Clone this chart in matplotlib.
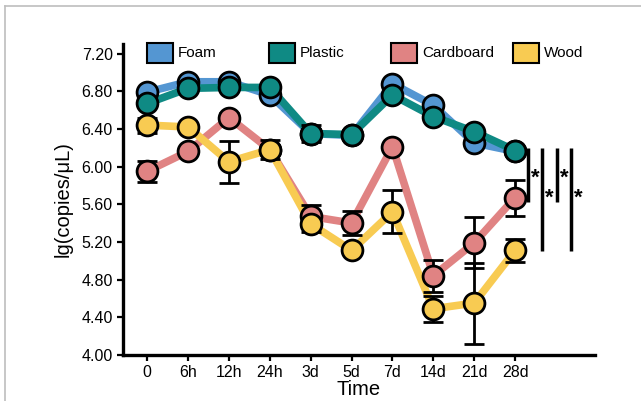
import matplotlib
matplotlib.use("Agg")
import matplotlib.pyplot as plt
from matplotlib.patches import Rectangle
from matplotlib.lines import Line2D
import numpy as np

plt.rcParams['font.family'] = ['Liberation Sans', 'DejaVu Sans']

times = ["0", "6h", "12h", "24h", "3d", "5d", "7d", "14d", "21d", "28d"]
series_names = ["Foam", "Plastic", "Cardboard", "Wood"]
foam = [6.79, 6.90, 6.90, 6.76, 6.35, 6.33, 6.88, 6.65, 6.25, 6.16]
foam_err = [0.04, 0.04, 0.04, 0.04, 0.05, 0.04, 0.04, 0.05, 0.04, 0.03]
plastic = [6.67, 6.83, 6.84, 6.84, 6.35, 6.34, 6.76, 6.53, 6.37, 6.17]
plastic_err = [0.04, 0.03, 0.03, 0.04, 0.09, 0.05, 0.04, 0.04, 0.04, 0.03]
cardboard = [5.95, 6.16, 6.52, 6.18, 5.47, 5.40, 6.21, 4.84, 5.19, 5.67]
cardboard_err = [0.11, 0.04, 0.05, 0.05, 0.12, 0.13, 0.04, 0.17, 0.27, 0.19]
wood = [6.44, 6.42, 6.05, 6.18, 5.39, 5.11, 5.52, 4.49, 4.55, 5.11]
wood_err = [0.08, 0.04, 0.22, 0.10, 0.08, 0.04, 0.23, 0.14, 0.43, 0.12]
colors = ["#5496D2", "#0F8A84", "#E08383", "#F8CB52"]

# significance brackets: (x position, top, bottom)
sig_x = [9.32, 9.66, 10.02, 10.37]
sig_top = [6.20, 6.20, 6.20, 6.20]
sig_bottom = [5.62, 5.10, 5.62, 5.10]
sig_star_y = [5.88, 5.66, 5.88, 5.66]

W, H = 641, 401
fig = plt.figure(figsize=(W / 100, H / 100), dpi=100)
ax = fig.add_axes([0.192, 0.115, 0.736, 0.775])

x = np.arange(len(times))
all_vals = [foam, plastic, cardboard, wood]
all_err = [foam_err, plastic_err, cardboard_err, wood_err]

for vals, err, c in zip(all_vals, all_err, colors):
    ax.plot(x, vals, color=c, lw=5.5, solid_capstyle='round', zorder=2)
for vals, err, c in zip(all_vals, all_err, colors):
    ax.errorbar(x, vals, yerr=err, fmt='none', ecolor='black', elinewidth=2.0,
                capsize=7, capthick=2.0, zorder=3)
    ax.plot(x, vals, 'o', ms=15, mfc=c, mec='black', mew=2.0, zorder=4, ls='none')

for sx, st, sb, sy in zip(sig_x, sig_top, sig_bottom, sig_star_y):
    ax.plot([sx, sx], [st, sb], color='black', lw=2.5, solid_capstyle='butt')
    ax.text(sx + 0.07, sy, "*", fontsize=16, fontweight='bold', ha='left', va='center')

ax.set_xlim(-0.59, 10.95)
ax.set_ylim(4.0, 7.3)
yt = np.arange(4.0, 7.21, 0.4)
ax.set_yticks(yt)
ax.set_yticklabels([f"{v:.2f}" for v in yt])
ax.set_xticks(x)
ax.set_xticklabels(times)
ax.tick_params(axis='both', labelsize=11.5, width=1.6, length=4, color='black', labelcolor='black')
for s in ['top', 'right']:
    ax.spines[s].set_visible(False)
for s in ['left', 'bottom']:
    ax.spines[s].set_linewidth(2.4)
ax.set_ylabel("lg(copies/μL)", fontsize=14.5, labelpad=6)
ax.set_xlabel("Time", fontsize=14.5, labelpad=0)

# manual legend (fixed pitch, like the reference)
for i, (name, c) in enumerate(zip(series_names, colors)):
    x0 = 147 + 122 * i
    fig.add_artist(Rectangle((x0 / W, 1 - 63 / H), 26 / W, 20 / H, transform=fig.transFigure,
                             facecolor=c, edgecolor='black', linewidth=1.5))
    fig.text((x0 + 31) / W, 1 - 53 / H, name, fontsize=11, ha='left', va='center')

fig.add_artist(Line2D([5 / W, 5 / W], [0, 1 - 6 / H], color='#BEBEBE', lw=1.2))
fig.add_artist(Line2D([5 / W, 1], [1 - 6 / H, 1 - 6 / H], color='#BEBEBE', lw=1.2))

fig.savefig("out.png", dpi=100)
